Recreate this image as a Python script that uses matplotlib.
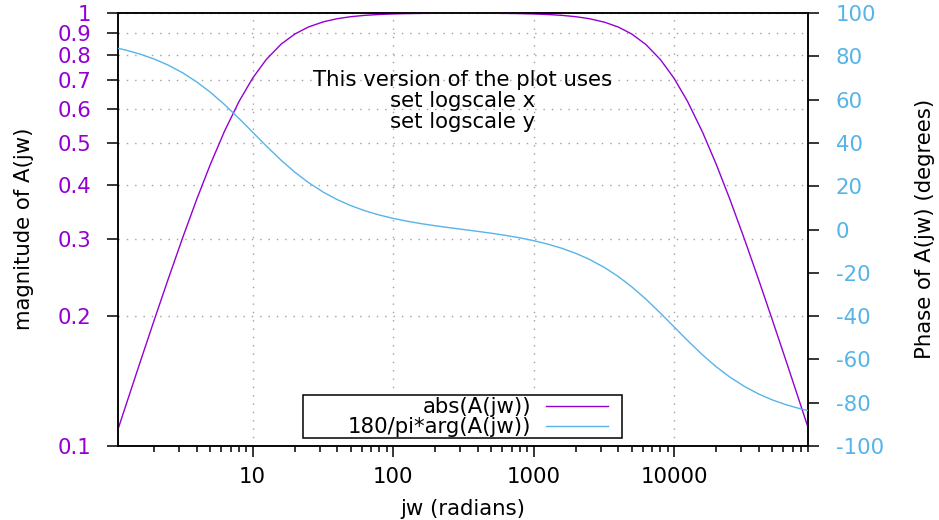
import matplotlib
matplotlib.use("Agg")
import matplotlib.pyplot as plt
from matplotlib.ticker import FixedLocator, NullFormatter, NullLocator
from matplotlib.patches import Rectangle

plt.rcParams['font.family'] = ['DejaVu Sans']
plt.rcParams['axes.unicode_minus'] = False

# ---- data ----
jw = [1.1, 1.25, 1.6, 2, 2.5, 3.2, 4, 5, 6.3, 8,
      10, 12.5, 16, 20, 25, 32, 40, 50, 63, 80,
      100, 125, 160, 200, 250, 320, 400, 500, 630, 800,
      1000, 1250, 1600, 2000, 2500, 3200, 4000, 5000, 6300, 8000,
      10000, 12500, 16000, 20000, 25000, 32000, 40000, 50000, 63000, 80000,
      90000]
magnitude = [0.1093, 0.1240, 0.1580, 0.1961, 0.2425, 0.3048, 0.3714, 0.4472, 0.5330, 0.6247,
             0.7071, 0.7809, 0.8480, 0.8944, 0.9285, 0.9545, 0.9701, 0.9806, 0.9876, 0.9923,
             0.9950, 0.9967, 0.9979, 0.9985, 0.9989, 0.9990, 0.9989, 0.9986, 0.9979, 0.9967,
             0.9950, 0.9922, 0.9874, 0.9806, 0.9701, 0.9524, 0.9285, 0.8944, 0.8461, 0.7809,
             0.7071, 0.6247, 0.5300, 0.4472, 0.3714, 0.2983, 0.2425, 0.1961, 0.1568, 0.1240,
             0.1104]
phase = [83.70, 82.87, 80.90, 78.68, 75.95, 72.24, 68.17, 63.40, 57.75, 51.29,
         44.94, 38.59, 31.91, 26.45, 21.66, 17.17, 13.81, 11.02, 8.66, 6.67,
         5.14, 3.86, 2.66, 1.72, 0.86, -0.04, -0.86, -1.72, -2.70, -3.86,
         -5.14, -6.67, -8.73, -11.02, -13.81, -17.57, -21.66, -26.45, -32.12, -38.59,
         -44.94, -51.29, -57.96, -63.41, -68.18, -72.63, -75.95, -78.68, -80.97, -82.87,
         -83.65]

xmajor = [10, 100, 1000, 10000]
xmajor_labels = ['10', '100', '1000', '10000']
yticks = [0.1, 0.2, 0.3, 0.4, 0.5, 0.6, 0.7, 0.8, 0.9, 1]
ytick_labels = ['0.1', '0.2', '0.3', '0.4', '0.5', '0.6', '0.7', '0.8', '0.9', '1']
y2ticks = [-100, -80, -60, -40, -20, 0, 20, 40, 60, 80, 100]
y2tick_labels = [str(v) for v in y2ticks]

PURPLE = '#9400D3'
BLUE = '#56B4E9'
FS = 15.3

fig = plt.figure(figsize=(9.39, 5.20), dpi=100)
W, H = 939, 520
L, R, T, B = 118, 808, 13, 446
ax = fig.add_axes([L / W, 1 - B / H, (R - L) / W, (B - T) / H])
ax2 = ax.twinx()

ax.set_xscale('log')
ax.set_yscale('log')
ax.set_xlim(1.1, 90000)
ax.set_ylim(0.1, 1)
ax2.set_ylim(-100, 100)

l1, = ax.plot(jw, magnitude, color=PURPLE, lw=1.0, label='abs(A(jw))', zorder=3)
l2, = ax2.plot(jw, phase, color=BLUE, lw=1.0, label='180/pi*arg(A(jw))', zorder=3)

# x ticks
ax.xaxis.set_major_locator(FixedLocator(xmajor))
ax.set_xticklabels(xmajor_labels)
minors = [m * 10 ** e for e in range(0, 5) for m in range(2, 10) if m * 10 ** e <= 90000]
ax.xaxis.set_minor_locator(FixedLocator(minors))
ax.xaxis.set_minor_formatter(NullFormatter())
ax.tick_params(axis='x', which='major', direction='out', length=8, width=1.1,
               labelsize=FS, pad=7, top=False)
ax.tick_params(axis='x', which='minor', direction='out', length=4, width=1.1, top=False)

# y ticks (left)
ax.yaxis.set_major_locator(FixedLocator(yticks))
ax.set_yticklabels(ytick_labels)
ax.yaxis.set_minor_locator(NullLocator())
ax.tick_params(axis='y', which='major', direction='out', length=8, width=1.1,
               labelsize=FS, labelcolor=PURPLE, pad=11, right=False)

# y2 ticks
ax2.set_yticks(y2ticks)
ax2.set_yticklabels(y2tick_labels)
ax2.tick_params(axis='y', direction='out', length=8, width=1.1,
                labelsize=FS, labelcolor=BLUE, pad=12)
for t in ax2.get_yticklabels():
    t.set_horizontalalignment('left')

for a in (ax, ax2):
    for s in a.spines.values():
        s.set_linewidth(1.1)
        s.set_color('black')

# grid
ax.grid(True, which='major', axis='both', color='#a0a0a0', linestyle=(0, (1, 5)), lw=1.0)
ax.set_axisbelow(True)

# axis labels
fig.text(24 / W, 1 - 229 / H, 'magnitude of A(jw)', rotation=90, fontsize=FS,
         ha='center', va='center')
fig.text(925 / W, 1 - 229 / H, 'Phase of A(jw) (degrees)', rotation=90, fontsize=FS,
         ha='center', va='center')
fig.text(463 / W, 1 - 509 / H, 'jw (radians)', fontsize=FS, ha='center', va='center')

# annotation
for txt, yb in [('This version of the plot uses', 86), ('set logscale x', 107),
                ('set logscale y', 128)]:
    fig.text(463 / W, 1 - yb / H, txt, fontsize=FS, ha='center', va='baseline')

# legend
leg = fig.legend(handles=[l1, l2], loc='center right', markerfirst=False,
                 bbox_to_anchor=(608 / W, 1 - 417 / H), frameon=False,
                 fontsize=FS, handlelength=2.9, handletextpad=0.7,
                 labelspacing=0.0, borderpad=0, borderaxespad=0)
fig.add_artist(Rectangle((303 / W, 1 - 438 / H), (622 - 303) / W, (438 - 395) / H,
                         transform=fig.transFigure, fill=True, facecolor='white',
                         edgecolor='black', lw=1.1, zorder=2))
leg.set_zorder(4)

fig.savefig('out.png', dpi=100)
